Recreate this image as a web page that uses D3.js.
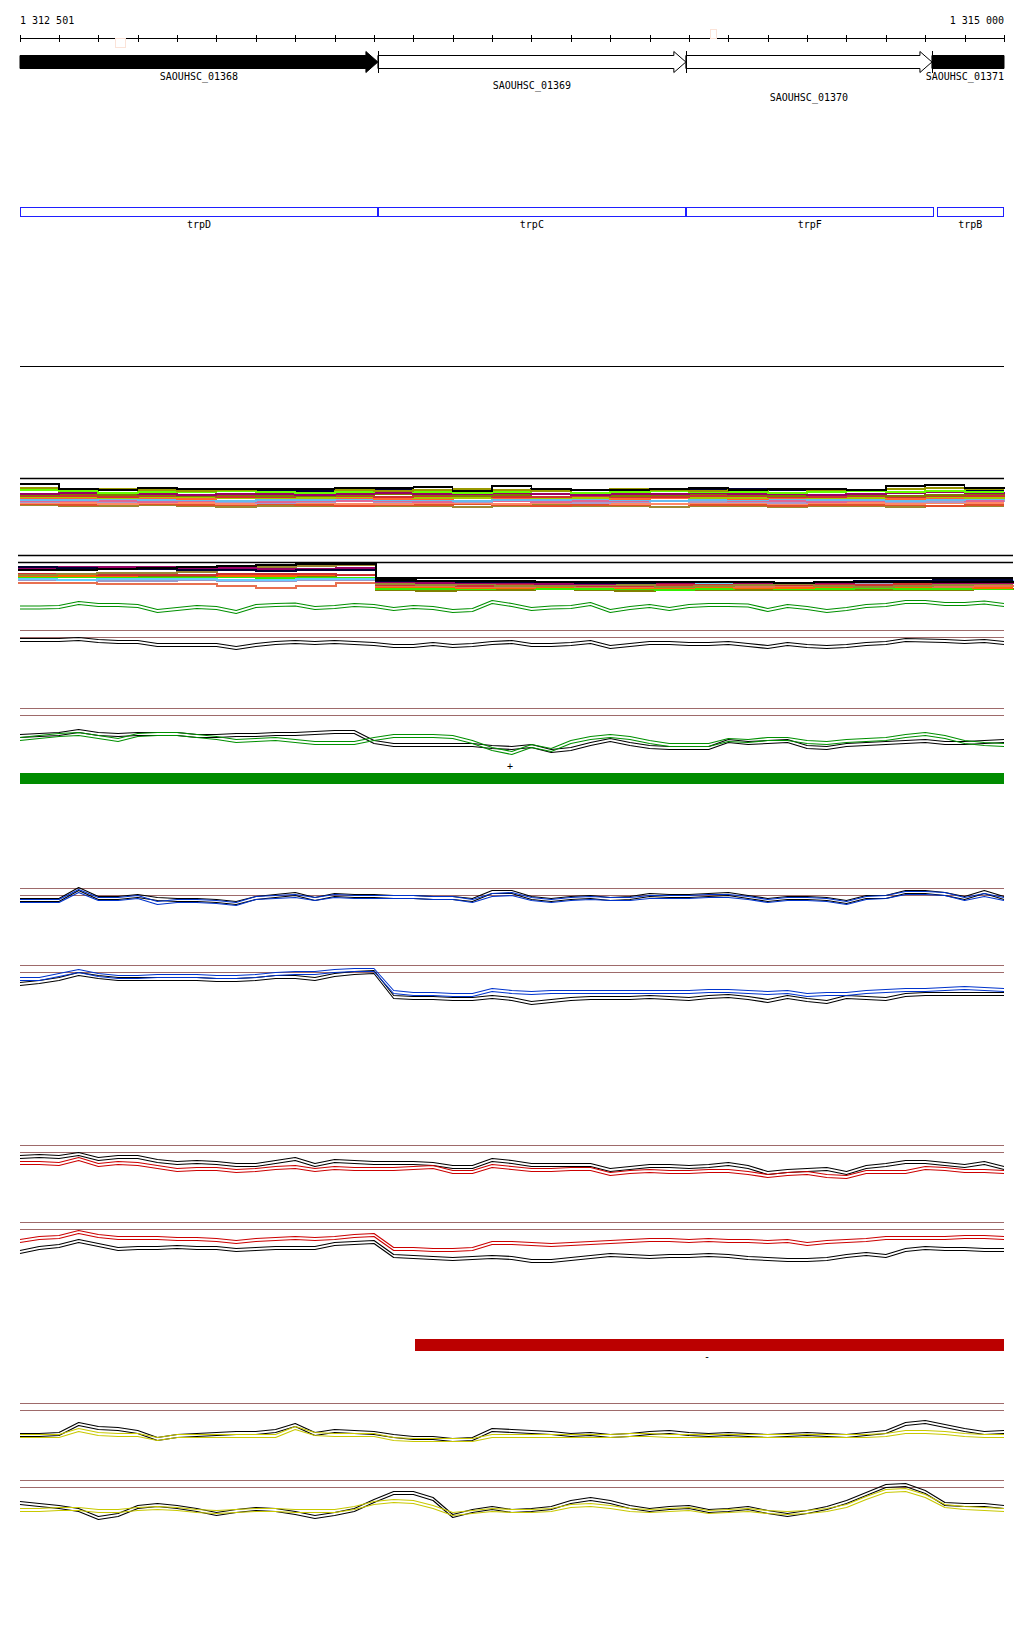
<!DOCTYPE html>
<html>
<head>
<meta charset="utf-8">
<script src="https://cdn.jsdelivr.net/npm/d3@7"></script>
<style>
  body { margin: 0; background: #fff; }
  text { font-family: "DejaVu Sans Mono", monospace; font-size: 10px; fill: #000; }
</style>
</head>
<body>
<script>
// sample positions (bp)
var positions = [1312501, 1312550, 1312600, 1312650, 1312700, 1312750, 1312800, 1312850, 1312900, 1312950,
  1313000, 1313050, 1313100, 1313150, 1313200, 1313250, 1313300, 1313350, 1313400, 1313450,
  1313500, 1313550, 1313600, 1313650, 1313700, 1313750, 1313800, 1313850, 1313900, 1313950,
  1314000, 1314050, 1314100, 1314150, 1314200, 1314250, 1314300, 1314350, 1314400, 1314450,
  1314500, 1314550, 1314600, 1314650, 1314700, 1314750, 1314800, 1314850, 1314900, 1314950, 1315000];
var positions100 = [1312501, 1312600, 1312700, 1312800, 1312900, 1313000, 1313100, 1313200, 1313300, 1313400,
  1313500, 1313600, 1313700, 1313800, 1313900, 1314000, 1314100, 1314200, 1314300, 1314400,
  1314500, 1314600, 1314700, 1314800, 1314900, 1315000];

var genes = [
  {name: "SAOUHSC_01368", start: 1312501, end: 1313410, fill: "#000", arrow: true},
  {name: "SAOUHSC_01369", start: 1313410, end: 1314192, fill: "#fff", arrow: true},
  {name: "SAOUHSC_01370", start: 1314192, end: 1314817, fill: "#fff", arrow: true},
  {name: "SAOUHSC_01371", start: 1314817, end: 1315000, fill: "#000", arrow: false}
];
var operonGenes = [
  {name: "trpD", start: 1312501, end: 1313410},
  {name: "trpC", start: 1313410, end: 1314192},
  {name: "trpF", start: 1314192, end: 1314821},
  {name: "trpB", start: 1314829, end: 1315000}
];

// track A: stacked coverage, 100 bp steps
var aBlack = [26, 21, 20, 22, 21, 21, 21, 21, 22, 22, 23, 19, 24, 21, 20, 20, 21, 22, 20, 21, 21, 20, 24, 25, 22, 21];
var aSeries = [
  {color: "#999900", v: [22,21,21,20,19,20,21,21,20,19,20,21,20,19,20,21,20,19,20,21,20,20,21,22,21,21]},
  {color: "#66ff00", v: [20,19,17,18,18,19,18,17,18,19,18,17,18,19,17,18,19,18,18,17,18,19,18,19,18,18]},
  {color: "#000033", v: [21,20,20,19,19,20,19,19,20,20,19,19,20,21,20,20,19,20,21,20,19,19,21,22,20,20]},
  {color: "#990066", v: [16,17,17,16,15,16,16,15,16,17,16,16,17,16,15,16,16,17,16,16,15,16,17,18,17,16]},
  {color: "#807a00", v: [15,16,15,15,14,15,14,14,15,16,15,14,15,16,15,14,15,16,15,14,15,15,14,15,16,15]},
  {color: "#d03030", v: [14,14,13,14,14,13,13,14,14,13,14,14,13,13,14,13,13,14,14,13,13,14,13,14,14,13]},
  {color: "#a8c800", v: [13,13,12,13,13,12,12,12,13,13,12,12,13,12,12,13,13,12,12,13,12,12,13,13,12,13]},
  {color: "#ff6633", v: [12,12,13,12,11,12,12,13,12,11,11,12,12,13,12,11,12,12,11,12,13,12,11,12,12,12]},
  {color: "#66bbee", v: [10,10,11,10,10,9,10,10,11,10,10,9,10,10,11,10,9,10,10,11,10,10,9,10,11,10]},
  {color: "#dd6699", v: [9,9,9,8,9,9,8,9,9,9,8,9,9,8,9,9,9,10,9,9,8,9,9,10,9,9]},
  {color: "#aa99cc", v: [8,9,8,8,9,8,7,8,9,8,8,8,9,8,7,8,9,8,8,7,8,9,8,8,9,8]},
  {color: "#ff8866", v: [7,7,6,7,7,6,7,7,6,6,7,7,6,7,7,6,6,7,7,6,7,7,6,7,7,7]},
  {color: "#e0502a", v: [6,5,6,6,5,5,6,5,4,5,5,6,5,4,5,5,6,5,5,4,5,5,5,4,5,5]},
  {color: "#a08830", v: [5,4,4,5,4,3,4,4,5,4,4,3,4,5,4,4,3,4,4,3,4,4,3,4,4,4]}
];

// track B: stacked coverage with drop after trpD
var bFlat = [null,null,null,null,null,null,null,null,null,18,18,18,18,18,18,18,18,18,18,18,18,18,18,18,18,18];
var bSeries = [
  {color: "#808000", v: [19,19,18,19,19,20,19,19,18,6,5,6,6,7,6,5,6,6,6,6,6,6,6,6,7,6]},
  {color: "#33ee00", v: [18,19,19,18,18,19,18,18,18,7,7,7,8,7,7,7,6,7,8,7,7,8,7,7,7,7]},
  {color: "#ff6600", v: [20,20,20,21,21,20,20,21,21,9,9,8,8,9,9,8,8,9,8,8,9,9,9,9,8,8]},
  {color: "#e87050", v: [13,13,12,12,12,10,8,10,13,10,10,9,9,10,9,9,10,10,9,10,10,9,10,9,10,9]},
  {color: "#9999cc", v: [16,16,15,15,16,15,15,16,16,11,12,11,11,12,12,11,11,12,12,12,13,13,14,14,13,13]},
  {color: "#66ccff", v: [17,16,17,17,17,16,16,17,17,13,13,13,12,12,13,13,12,12,13,13,13,14,15,15,15,14]},
  {color: "#cc3333", v: [22,22,21,21,21,22,22,22,21,11,11,10,11,11,10,10,11,11,11,11,11,11,12,12,12,12]},
  {color: "#998833", v: [21,22,23,23,24,26,29,30,31,12,11,12,10,10,11,11,9,10,11,12,10,9,10,11,12,12]},
  {color: "#990066", v: [28,29,29,29,28,28,27,27,28,14,13,13,13,12,12,13,13,14,13,13,13,14,14,13,13,14]},
  {color: "#000033", v: [29,28,27,27,26,26,25,26,26,15,15,14,14,14,13,13,14,14,14,13,14,15,15,16,16,16]},
  {color: "#000000", v: [26,26,27,28,29,30,31,32,32,16,15,15,15,14,14,14,14,14,14,13,14,14,14,14,14,15]}
];

// single green coverage
var greenSingle = [9.5,9.5,10,14,12,12,11,6,8,10,9,5,11,12,12.5,9,10,12,11,8,10,9,6,7,15,12,8,9.5,10,13,6,9,11,8,11,12,12,11.5,7,11,9,6,8,11,12,15,15,13,13,14.5,12];

// track C
var cBlack = [12,12,12,13,11,10,10,7,7,7,7,4,7,9,10,9,10,9,8,6,6,8,6,7,9,10,7,7,8,10,5,7,9,9,8,8,9,7,5,8,6,5,6,8,9,12,11.5,11,10,11,9];

// track D
var dBlack = [21,22,23,26,23,22,23,23,23,21,21,22,22,23,23,24,25,25,15,12,12,12,12,12,10,9,11,6,8,13,17,13,10,9,9,9,16,14,15,16,10,9,12,13,14,15,16,14,14,15,16];
var dGreen = [18,20,22,23,20,17,22,23,23,21,19,16,17,18,16,14,14,14,18,21,21,21,20,15,8,4,11,7,15,19,21,19,15,12,12,12,17,16,18,18,15,14,16,17,18,21,23,20,15,13,12];

// track E
var eBlack = [7,7,7,18,9,9,11,8,7,7,6,4,9,11,13,8,12,11,11,10,10,9,9,7,15,15,9,7,9,10,8,9,12,11,11,12,13,10,7,9,9,8,5,10,10,15,15,13,9,15,9];
var eBlue = [6,6,6,16,8,8,10,4,6,6,5,3,9,10,11,8,11,10,10,10,10,9,9,6,12,13,8,6,8,9,8,8,10,10,10,11,11,9,6,8,8,7,4,9,10,14,14,13,8,12,8];

// track F
var fBlack = [21,23,26,31,28,26,26,26,26,26,25,25,26,28,28,26,30,32,33,8,7,7,6,6,8,6,2,4,6,7,7,7,8,7,6,8,9,7,4,8,5,3,8,7,6,10,11,11,11,11,11];
var fBlue = [26,26,30,34,30,28,28,29,29,29,28,28,29,31,32,32,34,35,35,13,11,11,10,10,15,13,12,13,13,13,13,13,13,13,13,14,14,13,12,13,10,11,11,13,14,15,15,16,17,16,15];

// track G
var gBlack = [25,26,25,28,23,25,25,21,19,20,19,17,17,20,23,17,21,20,19,19,19,18,15,15,22,20,17,17,17,17,12,14,16,16,15,16,18,15,9,11,12,13,9,15,17,20,20,18,16,19,14];
var gRed = [19,19,18,23,17,19,18,15,12,13,13,11,12,14,15,12,14,13,13,13,14,15,10,10,16,14,12,12,13,13,8,10,11,10,10,11,11,9,6,8,9,6,5,10,10,10,14,13,11,11,10];

// track H
var hBlack = [12,16,18,23,19,15,16,16,17,16,16,14,15,16,16,16,20,21,22,8,7,6,5,6,7,6,3,3,5,7,9,8,7,8,8,9,8,6,5,4,4,5,8,10,8,14,16,15,15,14,14];
var hRed = [23,26,27,32,28,26,26,26,25,25,24,22,24,25,26,25,26,28,29,15,15,14,14,15,21,21,20,19,20,21,22,23,24,24,23,24,23,23,22,23,20,22,23,24,26,26,26,26,27,27,26];

// track I
var iBlack = [9,9,10,20,16,15,12,5,8,9,10,11,11,13,19,10,13,12,11,8,6,6,4,5,14,13,12,11,9,10,8,9,11,12,10,9,10,9,8,9,10,9,8,10,12,20,22,18,14,11,12];
var iYellow = [8,8,8,14,10,9,9,5,8,8,8,8,8,8,16,10,9,9,9,5,4,4,4,4,8,8,8,8,8,8,8,9,9,8,8,8,8,8,8,8,8,8,8,8,9,12,12,11,9,8,8];

// track J
var jBlack = [21,19,17,14,6,9,17,19,17,14,10,13,15,14,11,7,10,14,23,31,31,25,8,13,16,13,14,16,22,25,22,17,14,16,17,13,14,16,12,9,12,16,22,30,38,39,32,20,19,19,17];
var jYellow = [14,14,15,15,13,13,15,16,15,13,12,13,14,14,13,13,13,16,21,23,22,17,10,12,14,13,13,14,18,19,17,14,13,14,15,12,13,14,12,11,12,14,18,26,33,34,28,18,16,15,14];

var svg = d3.select("body").append("svg")
    .attr("width", 1024)
    .attr("height", 1640);

var x = d3.scaleLinear().domain([1312501, 1315000]).range([20, 1004]);
var xWide = d3.scaleLinear().domain([1312501, 1315000]).range([18, 1013]);

// ---- ruler ----
svg.append("text").attr("x", 20).attr("y", 24).text("1 312 501");
svg.append("text").attr("x", 1004).attr("y", 24).attr("text-anchor", "end").text("1 315 000");
svg.append("line").attr("x1", x(1312501)).attr("x2", x(1315000))
    .attr("y1", 38.5).attr("y2", 38.5).attr("stroke", "#000");
svg.selectAll(".tick").data(positions100).enter().append("line")
    .attr("x1", function (d) { return Math.round(x(d)) + 0.5; })
    .attr("x2", function (d) { return Math.round(x(d)) + 0.5; })
    .attr("y1", 35).attr("y2", 42).attr("stroke", "#000");
// faint marks
svg.append("rect").attr("x", 115.5).attr("y", 38.5).attr("width", 10).attr("height", 9)
    .attr("fill", "none").attr("stroke", "#fbe3d8");
svg.append("rect").attr("x", 710.5).attr("y", 29.5).attr("width", 6).attr("height", 9)
    .attr("fill", "none").attr("stroke", "#fbe3d8");

// ---- genes ----
var labelRows = [80, 89, 101, 80];
genes.forEach(function (g, i) {
    var x0 = x(g.start), x1 = x(g.end);
    var p;
    if (g.arrow) {
        var h = x1 - 12;
        p = [[x0, 55.5], [h, 55.5], [h, 51.5], [x1, 62], [h, 72.5], [h, 68.5], [x0, 68.5]];
    } else {
        p = [[x0, 55.5], [x1, 55.5], [x1, 68.5], [x0, 68.5]];
    }
    svg.append("path").attr("d", "M" + p.join("L") + "Z")
        .attr("fill", g.fill).attr("stroke", "#000");
    if (i > 0) {
        svg.append("line").attr("x1", Math.round(x0) + 0.5).attr("x2", Math.round(x0) + 0.5)
            .attr("y1", 51).attr("y2", 73).attr("stroke", "#000");
    }
    var t = svg.append("text").attr("y", labelRows[i]).text(g.name);
    if (i === genes.length - 1) {
        t.attr("x", 1004).attr("text-anchor", "end");
    } else {
        t.attr("x", (x0 + x1) / 2).attr("text-anchor", "middle");
    }
});

operonGenes.forEach(function (g) {
    svg.append("rect").attr("x", Math.round(x(g.start)) + 0.5).attr("y", 207.5)
        .attr("width", Math.round(x(g.end) - x(g.start)) - 1).attr("height", 9)
        .attr("fill", "#fff").attr("stroke", "#1f1fff");
    svg.append("text").attr("x", (x(g.start) + x(g.end)) / 2).attr("y", 228)
        .attr("text-anchor", "middle").text(g.name);
});

svg.append("line").attr("x1", 20).attr("x2", 1004).attr("y1", 366.5).attr("y2", 366.5).attr("stroke", "#000");

// ---- helpers ----
function hline(y, x0, x1, color, w) {
    svg.append("line").attr("x1", x0).attr("x2", x1).attr("y1", y).attr("y2", y)
        .attr("stroke", color).attr("stroke-width", w || 1);
}

function trackScale(bottom, height) {
    return d3.scaleLinear().domain([0, height]).range([bottom, bottom - height]);
}

function stepLine(xs, pos, y, values, color, w) {
    var line = d3.line()
        .defined(function (d) { return d[1] !== null; })
        .x(function (d) { return xs(d[0]); })
        .y(function (d) { return y(d[1]); })
        .curve(d3.curveStepAfter);
    svg.append("path").attr("d", line(d3.zip(pos, values)))
        .attr("fill", "none").attr("stroke", color).attr("stroke-width", w || 2)
        .attr("shape-rendering", "crispEdges");
}

// two replicate strokes, drawn 3px apart
function pairLine(y, values, color) {
    var line = d3.line()
        .x(function (d) { return x(d[0]); })
        .y(function (d) { return y(d[1]) + 0.5; });
    var d = line(d3.zip(positions, values));
    [0, 3].forEach(function (off) {
        svg.append("path").attr("d", d).attr("transform", "translate(0," + off + ")")
            .attr("fill", "none").attr("stroke", color).attr("stroke-width", 1.1)
            .attr("stroke-linejoin", "round");
    });
}

var brown = "#9e6a6a";

// ---- track A ----
var yA = trackScale(510, 30);
hline(478.5, 20, 1004, "#000", 1.5);
aSeries.slice().reverse().forEach(function (s) { stepLine(x, positions100, yA, s.v, s.color, 2); });
stepLine(x, positions100, yA, aBlack, "#000", 1.5);

// ---- track B ----
var yB = trackScale(596, 40);
hline(555.5, 18, 1013, "#000", 1.5);
hline(562.5, 18, 1013, "#000", 1.5);
bSeries.forEach(function (s) { stepLine(xWide, positions100, yB, s.v, s.color, 2); });
stepLine(xWide, positions100, yB, bFlat, "#000", 2.5);

// green coverage
pairLine(trackScale(615, 20), greenSingle, "#009000");

// ---- track C ----
hline(630.5, 20, 1004, brown); hline(637.5, 20, 1004, brown);
pairLine(trackScale(650, 20), cBlack, "#000");

// ---- track D ----
hline(708.5, 20, 1004, brown); hline(715.5, 20, 1004, brown);
var yD = trackScale(755, 30);
pairLine(yD, dBlack, "#000");
pairLine(yD, dGreen, "#009000");
svg.append("text").attr("x", 510).attr("y", 770).attr("text-anchor", "middle").text("+");
svg.append("rect").attr("x", x(1312501)).attr("y", 773).attr("width", x(1315000) - x(1312501)).attr("height", 11)
    .attr("fill", "#008c00");

// ---- track E ----
hline(888.5, 20, 1004, brown); hline(895.5, 20, 1004, brown);
var yE = trackScale(905, 20);
pairLine(yE, eBlack, "#000");
pairLine(yE, eBlue, "#0033cc");

// ---- track F ----
hline(965.5, 20, 1004, brown); hline(972.5, 20, 1004, brown);
var yF = trackScale(1003, 40);
pairLine(yF, fBlack, "#000");
pairLine(yF, fBlue, "#0033cc");

// ---- track G ----
hline(1145.5, 20, 1004, brown); hline(1152.5, 20, 1004, brown);
var yG = trackScale(1180, 30);
pairLine(yG, gBlack, "#000");
pairLine(yG, gRed, "#cc0000");

// ---- track H ----
hline(1222.5, 20, 1004, brown); hline(1229.5, 20, 1004, brown);
var yH = trackScale(1262, 40);
pairLine(yH, hRed, "#cc0000");
pairLine(yH, hBlack, "#000");

svg.append("rect").attr("x", 415).attr("y", 1339).attr("width", 1004 - 415).attr("height", 12)
    .attr("fill", "#bb0000");
svg.append("text").attr("x", 707).attr("y", 1360).attr("text-anchor", "middle").text("-");

// ---- track I ----
hline(1403.5, 20, 1004, brown); hline(1410.5, 20, 1004, brown);
var yI = trackScale(1442, 30);
pairLine(yI, iBlack, "#000");
pairLine(yI, iYellow, "#c8c800");

// ---- track J ----
hline(1480.5, 20, 1004, brown); hline(1487.5, 20, 1004, brown);
var yJ = trackScale(1522, 45);
pairLine(yJ, jBlack, "#000");
pairLine(yJ, jYellow, "#c8c800");
</script>
</body>
</html>
